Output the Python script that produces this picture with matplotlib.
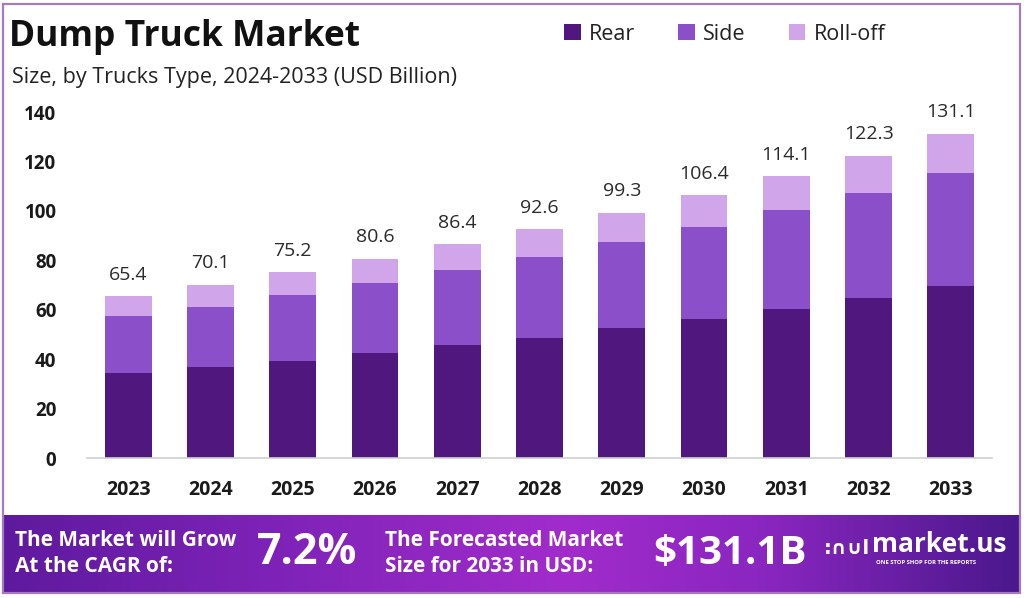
import matplotlib
matplotlib.use("Agg")
import matplotlib.pyplot as plt
import numpy as np
from matplotlib.patches import Patch, Rectangle
from matplotlib.colors import LinearSegmentedColormap

years = ["2023", "2024", "2025", "2026", "2027", "2028", "2029", "2030", "2031", "2032", "2033"]
rear = [34.5, 36.7, 39.4, 42.5, 45.9, 48.7, 52.5, 56.3, 60.3, 64.7, 69.5]
side = [22.8, 24.5, 26.4, 28.2, 30.1, 32.6, 34.8, 37.3, 40.1, 42.7, 45.8]
totals = [65.4, 70.1, 75.2, 80.6, 86.4, 92.6, 99.3, 106.4, 114.1, 122.3, 131.1]
rolloff = [round(t - r - s, 1) for t, r, s in zip(totals, rear, side)]
series_names = ["Rear", "Side", "Roll-off"]
colors = ["#50177f", "#8b4fca", "#d0a5ea"]
yticks = [0, 20, 40, 60, 80, 100, 120, 140]

FONT = ["Open Sans", "DejaVu Sans"]
plt.rcParams["font.family"] = FONT

W, H = 1024, 598
fig = plt.figure(figsize=(W / 100, H / 100), dpi=100)
fig.patch.set_facecolor("white")

def fx(px):
    return px / W

def fy(py):
    return 1 - py / H

# outer border
fig.patches.append(Rectangle((fx(3), fy(593)), fx(1020) - fx(3), fy(4) - fy(593),
                             transform=fig.transFigure, fill=False,
                             edgecolor="#a47bc0", lw=1.6, zorder=0))

ax = fig.add_axes([fx(87), fy(458), fx(992) - fx(87), fy(112) - fy(458)])
x = np.arange(len(years))
bw = 0.57
ax.bar(x, rear, bw, color=colors[0], label=series_names[0])
ax.bar(x, side, bw, bottom=rear, color=colors[1], label=series_names[1])
bottom2 = [r + s for r, s in zip(rear, side)]
ax.bar(x, rolloff, bw, bottom=bottom2, color=colors[2], label=series_names[2])

for xi, t in zip(x, totals):
    ax.annotate(f"{t}", (xi, t), xytext=(0, 9), textcoords="offset points",
                ha="center", va="bottom", fontsize=14, color="#2a2a2a",
                annotation_clip=False)

ax.set_xlim(-0.5, 10.5)
ax.set_ylim(0, 140)
ax.set_yticks(yticks)
ax.set_yticklabels([str(v) for v in yticks], fontweight="bold", fontsize=13.5, color="#1a1a1a")
ax.set_xticks(x)
ax.set_xticklabels(years, fontweight="bold", fontsize=14, color="#1a1a1a")
ax.tick_params(axis="y", length=0, pad=22)
ax.tick_params(axis="x", length=0, pad=16)
for s in ["top", "right", "left"]:
    ax.spines[s].set_visible(False)
ax.spines["bottom"].set_color("#cfcfcf")
ax.spines["bottom"].set_linewidth(1.2)

# title / subtitle
fig.text(fx(9), fy(37), "Dump Truck Market", fontsize=25.5, fontweight="bold",
         color="#111111", va="center", ha="left")
fig.text(fx(12), fy(77), "Size, by Trucks Type, 2024-2033 (USD Billion)", fontsize=15.5,
         color="#222222", va="center", ha="left")

# legend
handles = [Patch(facecolor=c, label=n) for c, n in zip(colors, series_names)]
fig.legend(handles=handles, loc="center left", bbox_to_anchor=(fx(545), fy(34)),
           ncol=3, frameon=False, fontsize=15.5, handlelength=0.75, handleheight=0.75,
           handletextpad=0.4, columnspacing=2.0, labelcolor="#222222")

# bottom banner
bax = fig.add_axes([fx(3), fy(592), fx(1020) - fx(3), fy(515) - fy(592)])
cmap = LinearSegmentedColormap.from_list(
    "banner", [(0.0, "#5e1a9e"), (0.25, "#7c22b6"), (0.55, "#a12ccb"),
               (0.75, "#8a26c0"), (1.0, "#4a188c")])
grad = np.linspace(0, 1, 512).reshape(1, -1)
bax.imshow(grad, aspect="auto", cmap=cmap, extent=[0, 1, 0, 1])
bax.set_xlim(0, 1)
bax.set_ylim(0, 1)
bax.axis("off")

fig.text(fx(15), fy(541), "The Market will Grow", fontsize=15, fontweight="bold",
         color="white", va="center", ha="left")
fig.text(fx(15), fy(566), "At the CAGR of:", fontsize=15, fontweight="bold",
         color="white", va="center", ha="left")
fig.text(fx(257), fy(553), "7.2%", fontsize=31, fontweight="bold",
         color="white", va="center", ha="left")
fig.text(fx(385), fy(541), "The Forecasted Market", fontsize=15, fontweight="bold",
         color="white", va="center", ha="left")
fig.text(fx(385), fy(566), "Size for 2033 in USD:", fontsize=15, fontweight="bold",
         color="white", va="center", ha="left")
fig.text(fx(653), fy(553), "$131.1B", fontsize=29, fontweight="bold",
         color="white", va="center", ha="left")
fig.text(fx(824), fy(549), ":∩∪l", fontsize=14, fontweight="bold",
         color="white", va="center", ha="left", family="DejaVu Sans")
fig.text(fx(872), fy(545), "market.us", fontsize=19, fontweight="bold",
         color="white", va="center", ha="left")
fig.text(fx(876), fy(563), "ONE STOP SHOP FOR THE REPORTS", fontsize=4.2, fontweight="bold",
         color="white", va="center", ha="left")

fig.savefig("out.png", dpi=100)
